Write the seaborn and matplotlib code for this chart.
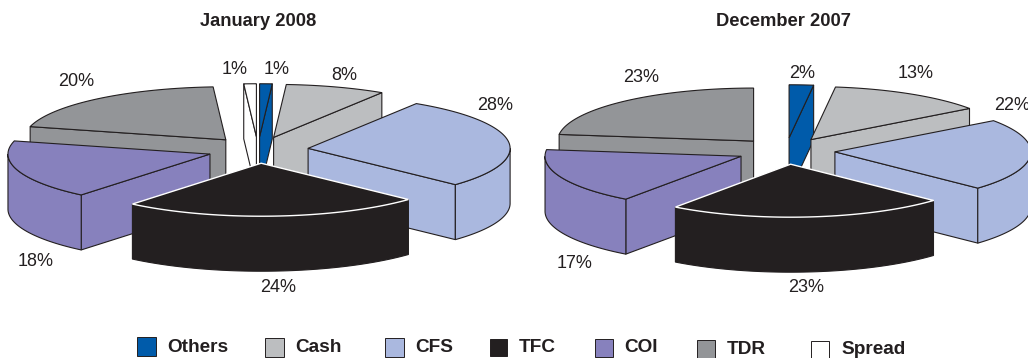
import numpy as np
import matplotlib
matplotlib.use("Agg")
import matplotlib.pyplot as plt
from matplotlib.patches import Polygon, Rectangle
import seaborn as sns

# Share of the book by category, in percent
categories = ["Others", "Cash", "CFS", "TFC", "COI", "TDR", "Spread"]
jan_2008 = [1, 8, 28, 24, 18, 20, 1]
dec_2007 = [2, 13, 22, 23, 17, 23, 0]
chart_titles = ["January 2008", "December 2007"]
slice_colors = ["#005BAA", "#BCBEC0", "#AAB8DF", "#231F20", "#8781BD", "#939598", "#FFFFFF"]

sns.set_theme(style="white")
plt.rcParams["font.family"] = ["Liberation Sans", "DejaVu Sans"]
palette = sns.color_palette(slice_colors)

EDGE = "#231F20"
DEPTH = 55
EXPLODE = 0.25
# Paint slices from the back of the pie towards the viewer
PAINT_ORDER = ["TDR", "Spread", "Others", "Cash", "COI", "CFS", "TFC"]


def rim(cx, cy, rx, ry, deg):
    a = np.radians(deg)
    return np.column_stack([cx + rx * np.sin(a), cy - ry * np.cos(a)])


def draw_pie(ax, values, cx, cy, rx, ry):
    stops = np.cumsum([0] + list(values)) * 3.6
    for name in PAINT_ORDER:
        i = categories.index(name)
        if values[i] == 0:
            continue
        start, end = stops[i], stops[i + 1]
        mid = (start + end) / 2
        ax_x = cx + EXPLODE * rx * np.sin(np.radians(mid))
        ax_y = cy - EXPLODE * ry * np.cos(np.radians(mid))
        apex = np.array([[ax_x, ax_y]])
        drop = np.array([0, DEPTH])
        arc = rim(ax_x, ax_y, rx, ry, np.linspace(start, end, 80))
        face = palette[i]
        line = "white" if name == "TFC" else EDGE
        wall_line = face if name == "TFC" else EDGE

        # Radial cut faces that turn towards the viewer
        if np.sin(np.radians(end)) > 1e-6:
            p = arc[-1:]
            ax.add_patch(Polygon(np.vstack([apex, p, p + drop, apex + drop]),
                                 facecolor=face, edgecolor=wall_line, lw=0.8, joinstyle="round"))
        if np.sin(np.radians(start)) < -1e-6:
            p = arc[:1]
            ax.add_patch(Polygon(np.vstack([apex, p, p + drop, apex + drop]),
                                 facecolor=face, edgecolor=wall_line, lw=0.8, joinstyle="round"))
        # Outer wall on the lower half of the ellipse
        lo, hi = max(start, 90), min(end, 270)
        if hi > lo:
            wall = rim(ax_x, ax_y, rx, ry, np.linspace(lo, hi, 80))
            ax.add_patch(Polygon(np.vstack([wall, (wall + drop)[::-1]]),
                                 facecolor=face, edgecolor=wall_line, lw=0.8))
        # Top surface
        ax.add_patch(Polygon(np.vstack([apex, arc]), facecolor=face, edgecolor=line,
                             lw=1.0 if name == "TFC" else 0.8))


fig = plt.figure(figsize=(10.28, 3.58), dpi=100)
ax = fig.add_axes([0, 0, 1, 1])
ax.set_xlim(0, 1028)
ax.set_ylim(358, 0)
ax.axis("off")

draw_pie(ax, jan_2008, 258, 150, 202, 53)
draw_pie(ax, dec_2007, 786, 151, 196, 53)

ax.text(258.5, 22, chart_titles[0], ha="center", va="center", fontsize=13.2, fontweight="bold", color=EDGE)
ax.text(783, 22, chart_titles[1], ha="center", va="center", fontsize=13.2, fontweight="bold", color=EDGE)

# Value labels beside each slice
left_spots = {"Others": (277, 70), "Cash": (344, 75), "CFS": (495, 105), "TFC": (278, 288),
              "COI": (36, 261), "TDR": (76, 82), "Spread": (235, 70)}
right_spots = {"Others": (802, 73), "Cash": (916, 74), "CFS": (1012, 106), "TFC": (806, 288),
               "COI": (575, 263), "TDR": (641, 77)}
for values, spots in ((jan_2008, left_spots), (dec_2007, right_spots)):
    for name, (x, y) in spots.items():
        ax.text(x, y, f"{values[categories.index(name)]}%", ha="center", va="center",
                fontsize=13, color=EDGE)

# Legend row
swatches = {"Others": (137, 337, 19), "Cash": (265, 338, 19), "CFS": (385, 338, 19), "TFC": (490, 339, 17),
            "COI": (595, 339, 18), "TDR": (697, 340, 18), "Spread": (811, 341, 18)}
text_x = {"Others": 167, "Cash": 295, "CFS": 415, "TFC": 519, "COI": 624, "TDR": 727, "Spread": 841}
text_y = {"Others": 347, "Cash": 348, "CFS": 348, "TFC": 347, "COI": 348, "TDR": 349, "Spread": 350}
for i, name in enumerate(categories):
    x, y, s = swatches[name]
    ax.add_patch(Rectangle((x, y), s, s, facecolor=palette[i], edgecolor=EDGE, lw=0.7))
    ax.text(text_x[name], text_y[name], name, ha="left", va="center", fontsize=13.7,
            fontweight="bold", color=EDGE)

fig.savefig("out.png", dpi=100)
